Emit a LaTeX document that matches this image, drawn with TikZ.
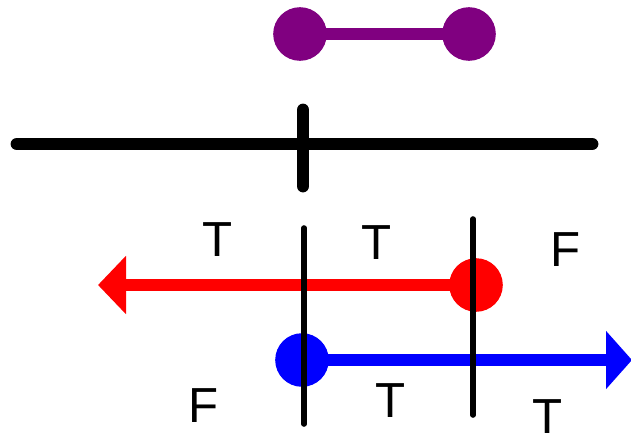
\documentclass[tikz,border=0pt]{standalone}
\usepackage{fontspec}
\setmainfont{Liberation Sans}
\usetikzlibrary{arrows.meta}
\usetikzlibrary{backgrounds,positioning}
\definecolor{intpurple}{RGB}{128,0,128}

\begin{document}
\begin{tikzpicture}[x=0.025cm,y=-0.025cm]
      \tikzstyle{dot}=[circle,inner sep=0pt,minimum size=1.34cm]
      \tikzstyle{lbl}=[font=\fontsize{35}{35}\selectfont,inner sep=0pt]
      \tikzstyle{thick line}=[line width=0.32cm]
      \tikzstyle{cut}=[line width=0.14cm,line cap=round]
      \useasboundingbox (0,0) rectangle (631,442);

      % interval on top
      \node[dot,fill=intpurple] (pa) at (300,34) {};
      \node[dot,fill=intpurple] (pb) at (469,34) {};
      \draw[thick line,intpurple] (pa.center) -- (pb.center);

      % number line
      \coordinate (la) at (17,144);
      \coordinate (lb) at (592,144);
      \coordinate (ta) at (303,110);
      \coordinate (tb) at (303,186);
      \draw[thick line,line cap=round] (la) -- (lb);
      \draw[thick line,line cap=round] (ta) -- (tb);

      % rays
      \node[dot,fill=red] (rdot) at (476,285) {};
      \coordinate (rtip) at (98,285);
      \draw[thick line,red,-{Triangle[length=0.7cm,width=1.42cm]}] (rdot.center) -- (rtip);
      \node[dot,fill=blue] (bdot) at (302,360) {};
      \coordinate (btip) at (632,360);
      \draw[thick line,blue,-{Triangle[length=0.65cm,width=1.42cm]}] (bdot.center) -- (btip);

      % cuts
      \coordinate (c1a) at (304,228);
      \coordinate (c1b) at (304,424);
      \coordinate (c2a) at (473,219);
      \coordinate (c2b) at (473,415);
      \draw[cut] (c1a) -- (c1b);
      \draw[cut] (c2a) -- (c2b);

      \node[lbl] (t1) at (218,240) {T};
      \node[lbl] (t2) at (377,243) {T};
      \node[lbl] (f1) at (566,250) {F};
      \node[lbl] (f2) at (204,406) {F};
      \node[lbl] (t3) at (391,401) {T};
      \node[lbl] (t4) at (548,417) {T};
\end{tikzpicture}
\end{document}
